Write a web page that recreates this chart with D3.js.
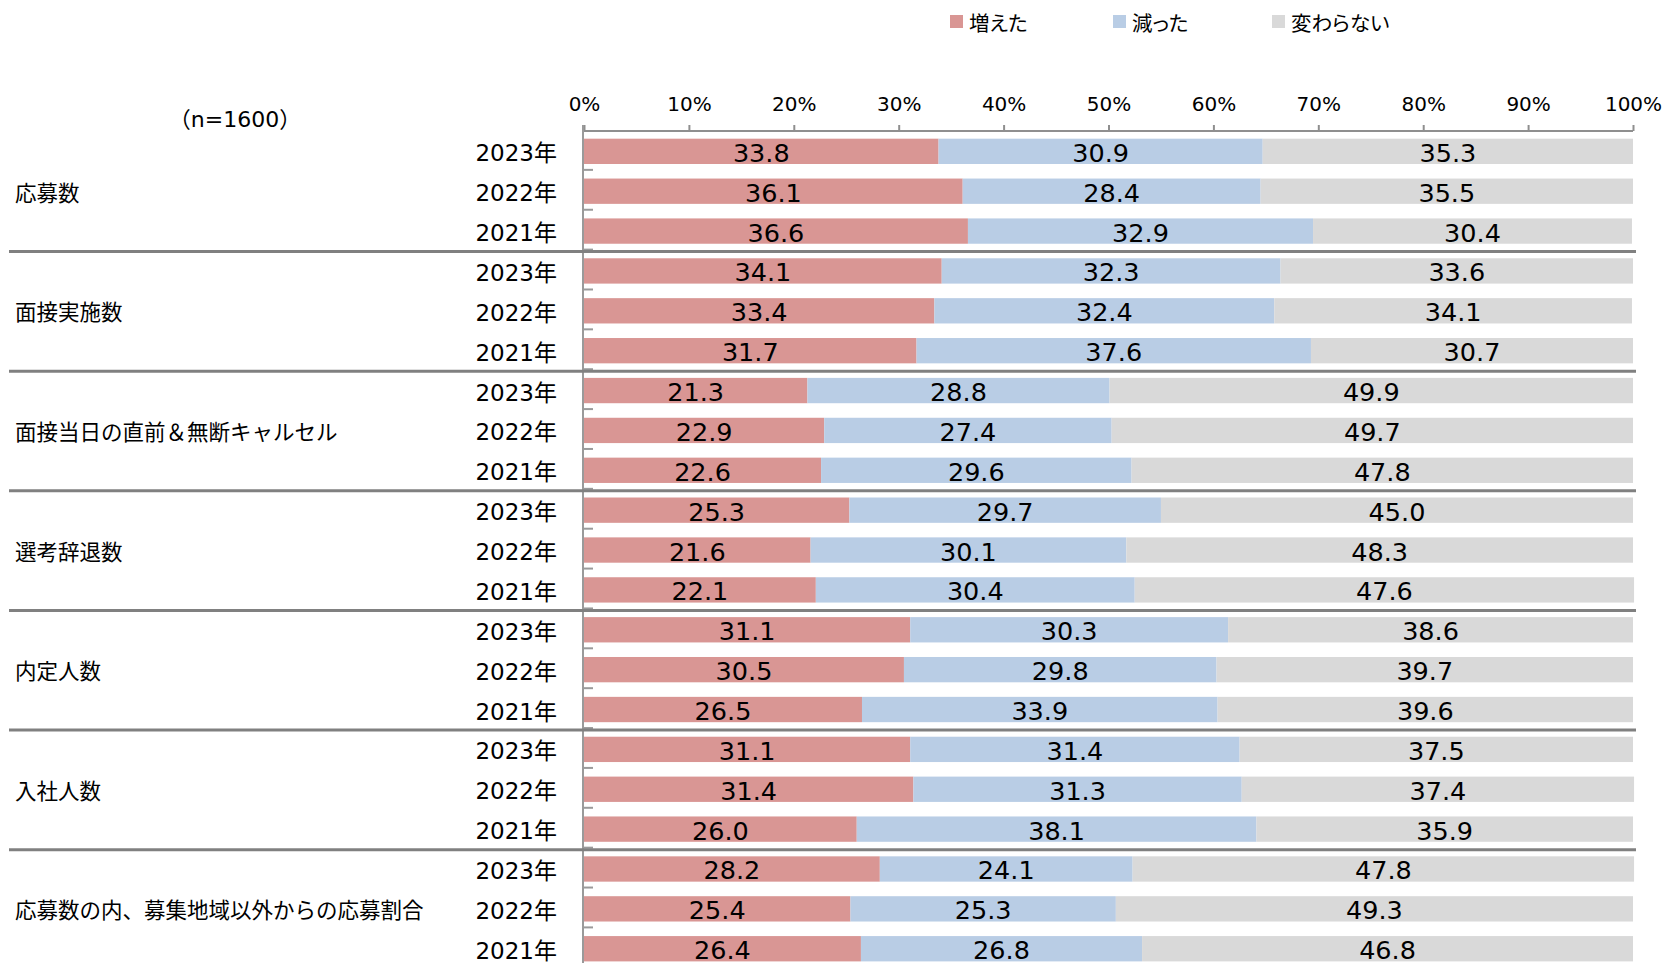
<!DOCTYPE html>
<html><head><meta charset="utf-8">
<script src="https://cdn.jsdelivr.net/npm/d3@7"></script>
<style>
html,body{margin:0;padding:0;background:#fff;}
text{font-family:"DejaVu Sans","Noto Sans CJK JP",sans-serif;fill:#000;}
.jp{font-family:"Noto Sans CJK JP",sans-serif;}
.jpl{font-family:"Noto Sans CJK JP",sans-serif;font-feature-settings:"palt";}
</style></head>
<body>
<svg id="chart" width="1663" height="963"></svg>
<script>
const groups = ["応募数","面接実施数","面接当日の直前＆無断キャルセル","選考辞退数","内定人数","入社人数","応募数の内、募集地域以外からの応募割合"];
const years = ["2023年","2022年","2021年"];
const seriesNames = ["増えた","減った","変わらない"];
const increased = [33.8,36.1,36.6, 34.1,33.4,31.7, 21.3,22.9,22.6, 25.3,21.6,22.1, 31.1,30.5,26.5, 31.1,31.4,26.0, 28.2,25.4,26.4];
const decreased = [30.9,28.4,32.9, 32.3,32.4,37.6, 28.8,27.4,29.6, 29.7,30.1,30.4, 30.3,29.8,33.9, 31.4,31.3,38.1, 24.1,25.3,26.8];
const unchanged = [35.3,35.5,30.4, 33.6,34.1,30.7, 49.9,49.7,47.8, 45.0,48.3,47.6, 38.6,39.7,39.6, 37.5,37.4,35.9, 47.8,49.3,46.8];
const xTicks = [0,10,20,30,40,50,60,70,80,90,100];
const sampleLabel = "（n=1600）";
const colors = ["#d99694","#b9cde5","#d9d9d9"];

const rows = [];
groups.forEach((g,gi)=>years.forEach((yr,yi)=>{
  const i = gi*3+yi;
  rows.push({id:i, group:g, year:yr, "増えた":increased[i], "減った":decreased[i], "変わらない":unchanged[i]});
}));

const svg = d3.select("#chart");
const x = d3.scaleLinear().domain([0,100]).range([584,1633]);
const step = 39.87;
const y0 = 131.5;
const y = d3.scaleBand().domain(rows.map(d=>d.id)).range([y0, y0+step*rows.length]).paddingInner(0).paddingOuter(0);
const barOff = y.bandwidth()*0.18, barH = y.bandwidth()*0.635;

const stack = d3.stack().keys(seriesNames)(rows);

// bars
const layers = svg.append("g").selectAll("g").data(stack).join("g").attr("fill",(d,i)=>colors[i]);
layers.selectAll("rect").data(d=>d).join("rect")
  .attr("x",d=>x(d[0])).attr("width",d=>x(d[1])-x(d[0]))
  .attr("y",d=>y(d.data.id)+barOff).attr("height",barH);

// value labels
const lbl = svg.append("g");
stack.forEach(layer=>{
  lbl.selectAll(null).data(layer).join("text")
    .attr("x",d=>x((d[0]+d[1])/2))
    .attr("y",d=>y(d.data.id)+barOff+barH/2+1.5)
    .attr("text-anchor","middle").attr("dominant-baseline","central")
    .attr("font-size",25.5)
    .text(d=>(d[1]-d[0]).toFixed(1));
});

// top axis
const axG = svg.append("g").attr("transform","translate(0,131)")
  .call(d3.axisTop(x).tickValues(xTicks).tickFormat(d=>d+"%").tickSize(6).tickPadding(14));
axG.select(".domain").attr("stroke","#8f8f8f").attr("stroke-width",2).attr("d","M584,0H1633");
axG.selectAll(".tick line").attr("stroke","#8f8f8f").attr("stroke-width",2);
axG.selectAll(".tick text").attr("font-size",20).attr("font-family","DejaVu Sans").attr("fill","#000");

// vertical axis & row ticks
svg.append("line").attr("x1",583).attr("x2",583).attr("y1",125).attr("y2",963)
  .attr("stroke","#9a9a9a").attr("stroke-width",2);
svg.append("g").selectAll("line").data(rows.slice(1)).join("line")
  .attr("x1",583).attr("x2",593)
  .attr("y1",d=>y(d.id)-1.5).attr("y2",d=>y(d.id)-1.5)
  .attr("stroke","#9a9a9a").attr("stroke-width",2);

// group separators
svg.append("g").selectAll("line").data(groups.slice(1)).join("line")
  .attr("x1",9).attr("x2",1636)
  .attr("y1",(d,i)=>y((i+1)*3)+0.5).attr("y2",(d,i)=>y((i+1)*3)+0.5)
  .attr("stroke","#808080").attr("stroke-width",3);

// year labels
svg.append("g").selectAll("text").data(rows).join("text")
  .attr("x",557).attr("y",d=>y(d.id)+barOff+barH/2+2)
  .attr("text-anchor","end").attr("dominant-baseline","central")
  .attr("font-size",23).text(d=>d.year);

// group labels
svg.append("g").selectAll("text").data(groups).join("text")
  .attr("class","jp")
  .attr("x",15).attr("y",(d,i)=>y(i*3+1)+y.bandwidth()/2)
  .attr("dominant-baseline","central")
  .attr("font-size",21.5).text(d=>d);

// n label
svg.append("text").attr("x",235).attr("y",119).attr("text-anchor","middle")
  .attr("dominant-baseline","central").attr("font-size",22).text(sampleLabel);

// legend
const lg = svg.append("g").selectAll("g").data(seriesNames).join("g")
  .attr("transform",(d,i)=>`translate(${[950,1113,1272][i]},15)`);
lg.append("rect").attr("width",13).attr("height",13).attr("fill",(d,i)=>colors[i]);
lg.append("text").attr("class","jpl").attr("x",19).attr("y",7).attr("dominant-baseline","central")
  .attr("font-size",20.5).text(d=>d);
</script>
</body></html>
